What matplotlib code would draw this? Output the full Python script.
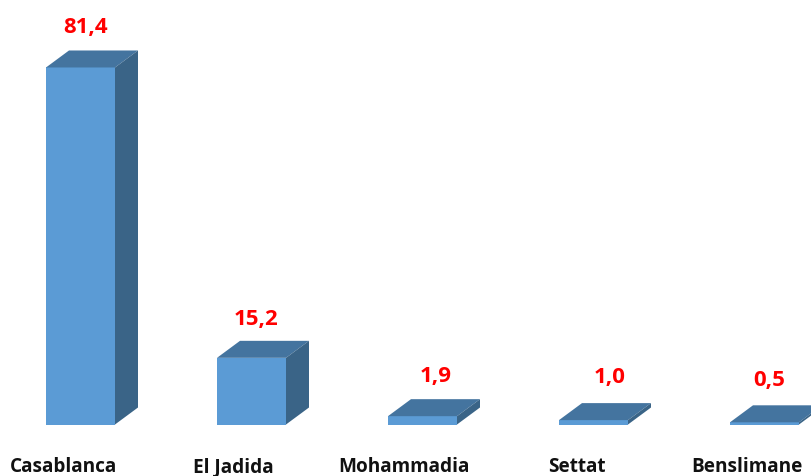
import matplotlib
matplotlib.use("Agg")
import matplotlib.pyplot as plt
from matplotlib.patches import Polygon

# Data
cities = ['Casablanca', 'El Jadida', 'Mohammadia', 'Settat', 'Benslimane']
values = [81.4, 15.2, 1.9, 1.0, 0.5]
value_labels = ['81,4', '15,2', '1,9', '1,0', '0,5']

# colours of the fake 3D box
front_col = '#5B9BD5'
top_col = '#44749F'
side_col = '#3A6487'

# px per unit, the axes fill the whole figure
W, H = 811, 477
bar_step = 171.0
y_scale = 4.386
x0 = 80.5
y0 = 425.5

fig = plt.figure(figsize=(W / 100, H / 100), dpi=100)
ax = fig.add_axes([0, 0, 1, 1])
ax.set_xlim(-x0 / bar_step, (W - x0) / bar_step)
ax.set_ylim(-(H - y0) / y_scale, y0 / y_scale)
ax.axis('off')

width = 69 / bar_step
dx = 23 / bar_step
dy = 17 / y_scale

xs = list(range(len(cities)))
ax.bar(xs, values, width=width, color=front_col, linewidth=0, zorder=2)

for x, v in zip(xs, values):
    l, r = x - width / 2, x + width / 2
    ax.add_patch(Polygon([(l, v), (r, v), (r + dx, v + dy), (l + dx, v + dy)],
                         closed=True, fc=top_col, ec='none', zorder=3))
    ax.add_patch(Polygon([(r, 0), (r + dx, dy), (r + dx, v + dy), (r, v)],
                         closed=True, fc=side_col, ec='none', zorder=3))

# label offsets in pixels from the top of each bar
label_off = [(5.5, 41), (4.5, 39), (13.5, 41), (16.5, 44), (4.5, 43)]
for x, v, s, off in zip(xs, values, value_labels, label_off):
    ax.annotate(s, xy=(x, v), xytext=off, textcoords='offset pixels',
                ha='center', va='center', color='#FF0000',
                fontsize=16, fontweight='bold', family='Open Sans')

name_off = [-17.5, -18.5, -18.5, -16.5, -17.5]
for x, name, off in zip(xs, cities, name_off):
    ax.annotate(name, xy=(x, 0), xytext=(off, -47), textcoords='offset pixels',
                ha='center', va='baseline', color='#111111',
                fontsize=13.7, fontweight='bold', family='Open Sans')

fig.savefig("out.png", dpi=100)
plt.close(fig)
